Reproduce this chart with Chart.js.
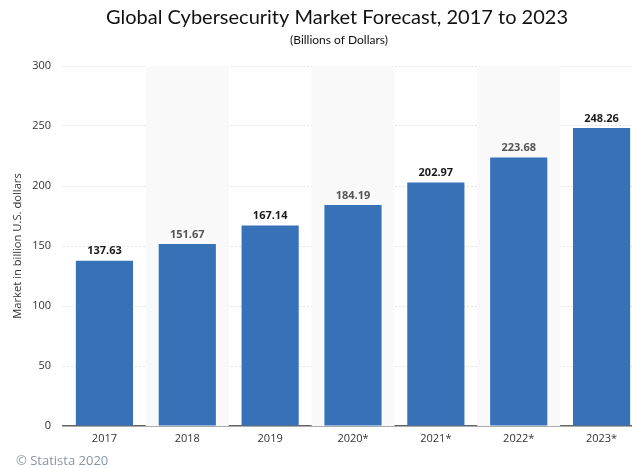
<!DOCTYPE html>
<html>
<head>
<meta charset="utf-8">
<script src="https://cdn.jsdelivr.net/npm/chart.js@4"></script>
<style>
  html, body { margin: 0; padding: 0; background: #fff; overflow: hidden; }
  #wrap { width: 674px; height: 468px; }
</style>
</head>
<body>
<div id="wrap"><canvas id="myBarChart"></canvas></div>
<script>
// chart values
const years = ["2017", "2018", "2019", "2020*", "2021*", "2022*", "2023*"];
const marketValues = [137.63, 151.67, 167.14, 184.19, 202.97, 223.68, 248.26];
const yTicks = [0, 50, 100, 150, 200, 250, 300];

Chart.defaults.font.family = '"Open Sans", "Noto Sans", sans-serif';
Chart.defaults.color = '#333';

// light bands behind every second category
const bandPlugin = {
    id: 'bands',
    beforeDatasetsDraw(chart) {
        const ctx = chart.ctx, x = chart.scales.x, area = chart.chartArea;
        const w = (area.right - area.left) / years.length;
        ctx.save();
        ctx.fillStyle = '#f9f9f9';
        years.forEach((y, i) => {
            if (i % 2 === 1) {
                const cx = x.getPixelForValue(i);
                ctx.fillRect(cx - w / 2, area.top, w, area.bottom - area.top);
            }
        });
        ctx.restore();
    }
};

// headings, value labels above bars, source note
const labelPlugin = {
    id: 'valueLabels',
    afterDatasetsDraw(chart) {
        const ctx = chart.ctx;
        const meta = chart.getDatasetMeta(0);
        ctx.save();
        ctx.textAlign = 'center';
        ctx.textBaseline = 'middle';
        ctx.fillStyle = '#111';
        ctx.font = '20px Lato, sans-serif';
        ctx.fillText('Global Cybersecurity Market Forecast, 2017 to 2023', 337, 18);
        ctx.font = '12px Lato, sans-serif';
        ctx.fillText('(Billions of Dollars)', 339, 40);

        ctx.font = 'bold 11px "Open Sans", sans-serif';
        ctx.textBaseline = 'bottom';
        meta.data.forEach((bar, i) => {
            ctx.fillStyle = i % 2 === 1 ? '#555' : '#1a1a1a';
            ctx.fillText(marketValues[i].toFixed(2), bar.x, bar.y - 4);
        });
        ctx.font = '13px "Open Sans", sans-serif';
        ctx.fillStyle = '#8796a4';
        ctx.textAlign = 'left';
        ctx.textBaseline = 'middle';
        ctx.fillText('\u00a9 Statista 2020', 16, 461);
        ctx.restore();
    }
};

const barConfig = {
    type: 'bar',
    data: {
        labels: years,
        datasets: [{
            label: 'Market',
            backgroundColor: '#3771b8',
            data: marketValues,
            barPercentage: 0.69,
            categoryPercentage: 1.0
        }]
    },
    options: {
        responsive: true,
        maintainAspectRatio: false,
        animation: false,
        layout: { padding: { left: 0, right: 31, top: 66, bottom: 0 } },
        scales: {
            x: {
                grid: { display: false, drawTicks: false },
                border: { color: '#666', width: 1.5 },
                ticks: { padding: 6, font: { size: 11 }, color: '#333' },
                afterFit(scale) { scale.height = 42; }
            },
            y: {
                min: 0,
                max: 300,
                afterBuildTicks(scale) { scale.ticks = yTicks.map(v => ({ value: v })); },
                grid: { color: '#e4e4e4', drawTicks: false },
                border: { display: false, dash: [2, 2] },
                ticks: { padding: 12, font: { size: 11 }, color: '#333' },
                title: {
                    display: true,
                    text: 'Market in billion U.S. dollars',
                    font: { size: 11.2 },
                    color: '#333',
                    padding: { top: 11, bottom: 0 }
                },
                afterFit(scale) { scale.width = 63; }
            }
        },
        plugins: {
            legend: { display: false },
            tooltip: { enabled: false },
            title: { display: false }
        }
    },
    plugins: [bandPlugin, labelPlugin]
};

var ctx = document.getElementById("myBarChart");
var myBarChart = new Chart(ctx, barConfig);
</script>
</body>
</html>
